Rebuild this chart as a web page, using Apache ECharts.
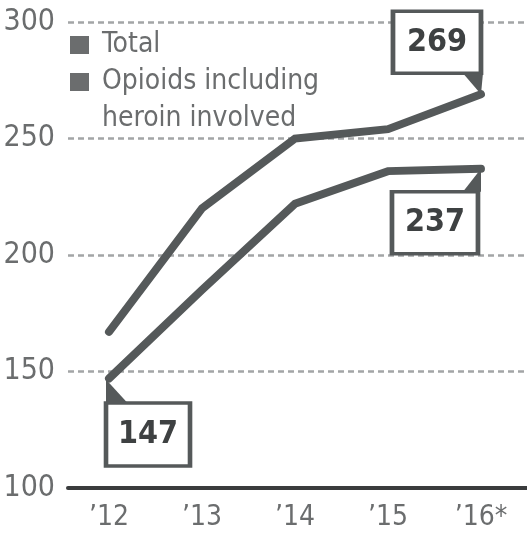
<!DOCTYPE html>
<html>
<head>
<meta charset="utf-8">
<script src="https://cdn.jsdelivr.net/npm/echarts@6/dist/echarts.min.js"></script>
<style>
html,body{margin:0;padding:0;background:#fff;}
#chart{width:527px;height:536px;}
</style>
</head>
<body>
<div id="chart"></div>
<script>
// ---- data ----
const years = [2012, 2013, 2014, 2015, 2016];
const yearLabels = ["’12", "’13", "’14", "’15", "’16*"];
const totalValues = [167, 220, 250, 254, 269];
const opioidValues = [147, 185, 222, 236, 237];
const yTicks = [100, 150, 200, 250, 300];
const seriesNames = ["Total", "Opioids including heroin involved"];

// ---- styles ----
const FONT = '"Liberation Sans Narrow", "DejaVu Sans Condensed", "Liberation Sans", sans-serif';
const LINE = '#55595a';
const GRAY = '#6b6d6e';

function pairs(xs, ys) { return xs.map((x, i) => [x, ys[i]]); }

function box(x, y, size, offset) {
  return {
    coord: [x, y], value: y,
    symbol: 'rect', symbolSize: size, symbolOffset: offset,
    itemStyle: { color: '#fff', borderColor: LINE, borderWidth: 4 },
    label: { show: true, formatter: '{c}', fontFamily: FONT, fontWeight: 'bold', fontSize: 32, color: '#3e4142' }
  };
}
function tail(x, y, path, size, offset) {
  return {
    coord: [x, y], value: y,
    symbol: path, symbolSize: size, symbolOffset: offset,
    itemStyle: { color: LINE, borderWidth: 0 },
    label: { show: false }
  };
}

const chart = echarts.init(document.getElementById('chart'), null, { renderer: 'canvas' });
const last = years.length - 1;

chart.setOption({
  animation: false,
  backgroundColor: '#fff',
  grid: { left: 68, right: 0, top: 22, bottom: 48, containLabel: false },
  legend: [
    {
      data: [{ name: seriesNames[0], itemStyle: { color: GRAY } }],
      left: 70, top: 26.5, padding: 0,
      icon: 'rect', itemWidth: 19, itemHeight: 18,
      textStyle: { fontFamily: FONT, fontSize: 28, color: GRAY, lineHeight: 37, padding: [0, 0, 0, 8] },
      selectedMode: false
    },
    {
      data: [{ name: seriesNames[1], itemStyle: { color: GRAY } }],
      left: 70, top: 26.5, padding: 0,
      icon: 'rect', itemWidth: 19, itemHeight: 18,
      formatter: function () { return '\nOpioids including\nheroin involved'; },
      textStyle: { fontFamily: FONT, fontSize: 28, color: GRAY, lineHeight: 37, padding: [0, 0, 0, 8] },
      selectedMode: false
    }
  ],
  xAxis: {
    type: 'value',
    min: 2011.559, max: 2016.495,
    axisLine: { show: true, lineStyle: { color: '#3a3c3d', width: 4 } },
    axisTick: { show: false },
    splitLine: { show: false },
    axisLabel: {
      customValues: years,
      formatter: function (v) { const i = years.indexOf(v); return i >= 0 ? yearLabels[i] : ''; },
      fontFamily: FONT, fontSize: 28, color: GRAY, margin: 16
    }
  },
  yAxis: {
    type: 'value',
    min: yTicks[0], max: yTicks[yTicks.length - 1], interval: 50,
    axisLine: { show: false },
    axisTick: { show: false },
    splitLine: { show: true, lineStyle: { color: '#a3a5a6', width: 2.5, type: [6, 4] } },
    axisLabel: { fontFamily: FONT, fontSize: 30, color: GRAY, margin: 13 }
  },
  series: [
    {
      name: seriesNames[0], type: 'line',
      data: pairs(years, totalValues),
      showSymbol: false, symbol: 'none',
      lineStyle: { color: LINE, width: 8, cap: 'round', join: 'miter' },
      itemStyle: { color: LINE },
      z: 3,
      markPoint: {
        silent: true,
        data: [
          box(years[last], totalValues[last], [88, 62], [-44, -52]),
          tail(years[last], totalValues[last], 'path://M0 0 L20 0 L18 21 Z', [20, 21], [-8, -10.5])
        ]
      }
    },
    {
      name: seriesNames[1], type: 'line',
      data: pairs(years, opioidValues),
      showSymbol: false, symbol: 'none',
      lineStyle: { color: LINE, width: 8, cap: 'round', join: 'miter' },
      itemStyle: { color: LINE },
      z: 3,
      markPoint: {
        silent: true,
        data: [
          box(years[last], opioidValues[last], [86, 62], [-46, 54]),
          box(years[0], opioidValues[0], [84, 63], [39, 56]),
          tail(years[last], opioidValues[last], 'path://M0 23 L18 23 L18 0 Z', [18, 23], [-9, 11.5]),
          tail(years[0], opioidValues[0], 'path://M0 0 L0 24 L22 24 Z', [22, 24], [8, 13])
        ]
      }
    }
  ]
});
</script>
</body>
</html>
